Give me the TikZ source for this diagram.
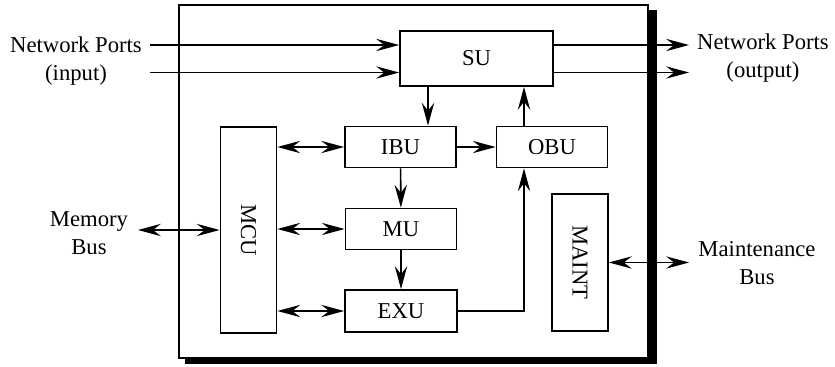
\documentclass[tikz,border=0pt]{standalone}
\usepackage{fontspec}
\setmainfont{Liberation Serif}
\usetikzlibrary{arrows.meta}

\begin{document}
\begin{tikzpicture}[x=0.02cm,y=-0.02cm,line join=miter,
    font=\fontsize{12.9}{15.9}\selectfont,
    blocco/.style={draw,line width=1pt,fill=white,inner sep=0pt},
    punta/.style={line width=0.9pt,-{Stealth[length=13pt,width=7pt,inset=4.5pt]}},
    doppia/.style={line width=0.9pt,{Stealth[length=13pt,width=7pt,inset=4.5pt]}-{Stealth[length=13pt,width=7pt,inset=4.5pt]}},
    etichetta/.style={align=center,inner sep=0pt}]

  \useasboundingbox (0,0) rectangle (835,366);

  % ---- cornice con ombra ----------------------------------------------------
  \fill[black] (185,10) rectangle (657,364);
  \draw[line width=1pt,fill=white] (179,5) rectangle (648,358);

  % ---- blocchi ---------------------------------------------------------------
  \node[blocco,minimum width=3.06cm,minimum height=1.10cm] (su)  at (476.5,58.5) {SU};
  \node[blocco,minimum width=2.22cm,minimum height=0.82cm] (ibu) at (400.5,147)  {IBU};
  \node[blocco,minimum width=2.22cm,minimum height=0.82cm] (obu) at (552,147)    {OBU};
  \node[blocco,minimum width=2.22cm,minimum height=0.82cm] (mu)  at (401,229)    {MU};
  \node[blocco,minimum width=2.24cm,minimum height=0.84cm] (exu) at (401,311)    {EXU};
  \node[blocco,rotate=-90,minimum width=4.12cm,minimum height=1.12cm] (mcu)   at (248.5,230) {MCU};
  \node[blocco,rotate=-90,minimum width=2.74cm,minimum height=1.12cm] (maint) at (580,262.5) {MAINT};

  % ---- etichette esterne -----------------------------------------------------
  \node[etichetta] (netin)    at (76,61)   {Network Ports\\(input)};
  \node[etichetta] (netout)   at (763,58)  {Network Ports\\(output)};
  \node[etichetta] (membus)   at (89,233)  {Memory\\Bus};
  \node[etichetta] (maintbus) at (757,263) {Maintenance\\Bus};

  \coordinate (in1)  at (150,45);
  \coordinate (in2)  at (150,72.5);
  \coordinate (out1) at (689,45);
  \coordinate (out2) at (689,72.5);
  \coordinate (mem)  at (138,230);
  \coordinate (man)  at (689,262.5);

  % ---- porte di rete -------------------------------------------------------
  \draw[punta] (in1) -- (su.west |- in1);
  \draw[punta] (in2) -- (su.west |- in2);
  \draw[punta] (su.east |- out1) -- (out1);
  \draw[punta] (su.east |- out2) -- (out2);

  % ---- flusso interno --------------------------------------------------------
  \draw[punta] ([xshift=-0.97cm]su.south) -- ([xshift=-0.97cm]su.south |- ibu.north);
  \draw[punta] (ibu) -- (obu);
  \draw[punta] (ibu) -- (mu);
  \draw[punta] (mu) -- (exu);
  \draw[punta] (exu.east) -| ([xshift=-0.56cm]obu.south);
  \draw[punta] ([xshift=-0.56cm]obu.north) -- ([xshift=-0.56cm]obu.north |- su.south);

  % ---- MCU verso i blocchi (north = lato destro, ruotato) --------------------
  \draw[doppia] (mcu.north |- ibu) -- (ibu.west);
  \draw[doppia] (mcu.north |- mu)  -- (mu.west);
  \draw[doppia] (mcu.north |- exu) -- (exu.west);

  % ---- bus esterni ------------------------------------------------------------
  \draw[doppia] (mem) -- (mcu.south);
  \draw[doppia] (maint.north) -- (man);

\end{tikzpicture}
\end{document}
